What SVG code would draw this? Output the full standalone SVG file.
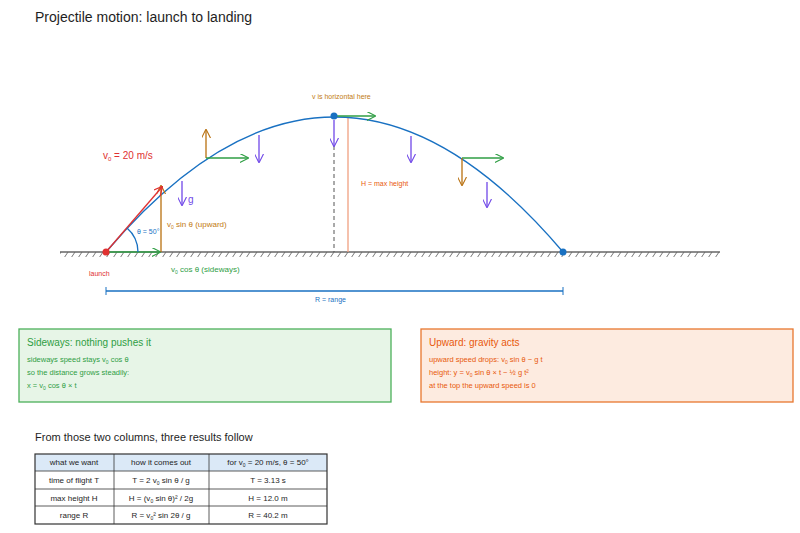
<svg xmlns="http://www.w3.org/2000/svg" width="800" height="533" viewBox="0 0 800 533">
<style>
text{font-family:"Liberation Sans",Arial,sans-serif;font-size:8px}
.t{font-size:14px;fill:#1e1e1e}
.g{fill:#2f9e44}.o{fill:#c27a12}.r{fill:#e03131}.b{fill:#1971c2}.oo{fill:#e8590c}
.ln{fill:none;stroke-width:1.3}
.tb{font-size:8px;fill:#1e1e1e;text-anchor:middle}
</style>
<defs>
<marker id="ag" viewBox="0 0 10 10" refX="9" refY="5" markerWidth="9" markerHeight="9" orient="auto" markerUnits="userSpaceOnUse"><path d="M0,0L10,5L0,10" fill="none" stroke="#2f9e44" stroke-width="1.2"/></marker>
<marker id="ao" viewBox="0 0 10 10" refX="9" refY="5" markerWidth="9" markerHeight="9" orient="auto" markerUnits="userSpaceOnUse"><path d="M0,0L10,5L0,10" fill="none" stroke="#b8700f" stroke-width="1.2"/></marker>
<marker id="ap" viewBox="0 0 10 10" refX="9" refY="5" markerWidth="9" markerHeight="9" orient="auto" markerUnits="userSpaceOnUse"><path d="M0,0L10,5L0,10" fill="none" stroke="#7048e8" stroke-width="1.2"/></marker>
<marker id="ar" viewBox="0 0 10 10" refX="9" refY="5" markerWidth="9" markerHeight="9" orient="auto" markerUnits="userSpaceOnUse"><path d="M0,0L10,5L0,10" fill="none" stroke="#e03131" stroke-width="1.4"/></marker>
<pattern id="hatch" width="7" height="6" patternUnits="userSpaceOnUse"><path d="M5,0L1,6" stroke="#555" stroke-width="0.8"/></pattern>
</defs>
<text x="35" y="22" class="t">Projectile motion: launch to landing</text>
<g id="ground">
<rect x="60" y="252" width="660" height="5" fill="url(#hatch)"/>
<line x1="60" y1="252" x2="720" y2="252" stroke="#666" stroke-width="1.3"/>
</g>
<g id="connectors">
<line x1="334" y1="146" x2="334" y2="252" stroke="#555" stroke-dasharray="4 3" stroke-width="1"/>
<line x1="348" y1="117" x2="348" y2="252" stroke="#f0a080" stroke-width="1.3"/>
<path d="M106,252 Q334.5,-18 563,252" class="ln" stroke="#1971c2" stroke-width="2.2"/>
<line x1="106" y1="252" x2="160" y2="252" class="ln" stroke="#2f9e44" marker-end="url(#ag)"/>
<line x1="161" y1="252" x2="161" y2="186" class="ln" stroke="#b8700f" marker-end="url(#ao)"/>
<line x1="106" y1="252" x2="162" y2="187" class="ln" stroke="#e03131" stroke-width="1.8" marker-end="url(#ar)"/>
<path d="M138,252 A32,32 0 0 0 127,228" class="ln" stroke="#1971c2" stroke-width="1"/>
<line x1="182" y1="181" x2="182" y2="205" class="ln" stroke="#7048e8" marker-end="url(#ap)"/>
<line x1="206" y1="158" x2="206" y2="130" class="ln" stroke="#b8700f" marker-end="url(#ao)"/>
<line x1="206" y1="158" x2="248" y2="158" class="ln" stroke="#2f9e44" marker-end="url(#ag)"/>
<line x1="259" y1="135" x2="259" y2="162" class="ln" stroke="#7048e8" marker-end="url(#ap)"/>
<line x1="334" y1="120" x2="334" y2="146" class="ln" stroke="#7048e8" marker-end="url(#ap)"/>
<line x1="334" y1="116" x2="375" y2="116" class="ln" stroke="#2f9e44" marker-end="url(#ag)"/>
<line x1="411" y1="136" x2="411" y2="162" class="ln" stroke="#7048e8" marker-end="url(#ap)"/>
<line x1="462" y1="158" x2="503" y2="158" class="ln" stroke="#2f9e44" marker-end="url(#ag)"/>
<line x1="462" y1="158" x2="462" y2="185" class="ln" stroke="#b8700f" marker-end="url(#ao)"/>
<line x1="487" y1="182" x2="487" y2="207" class="ln" stroke="#7048e8" marker-end="url(#ap)"/>
<line x1="106" y1="291" x2="563" y2="291" class="ln" stroke="#1971c2" stroke-width="1"/>
<line x1="106" y1="287" x2="106" y2="295" stroke="#1971c2"/>
<line x1="563" y1="287" x2="563" y2="295" stroke="#1971c2"/>
</g>
<g id="points">
<circle cx="106" cy="252" r="3.5" fill="#e03131"/>
<circle cx="334" cy="116" r="3.5" fill="#1971c2"/>
<circle cx="563" cy="252" r="3.5" fill="#1971c2"/>
</g>
<g id="labels">
<text x="103" y="159" class="r" style="font-size:10px">v<tspan font-size="6" dy="2">0</tspan><tspan dy="-2"> = 20 m/s</tspan></text>
<text x="137" y="234" class="b" style="font-size:7px">θ = 50°</text>
<text x="188" y="203" style="font-size:10px;fill:#7048e8">g</text>
<text x="167" y="227" class="o">v<tspan font-size="5" dy="2">0</tspan><tspan dy="-2"> sin θ  (upward)</tspan></text>
<text x="89" y="276" class="r" style="font-size:7px">launch</text>
<text x="171" y="272" class="g">v<tspan font-size="5" dy="2">0</tspan><tspan dy="-2"> cos θ  (sideways)</tspan></text>
<text x="312" y="99" class="o" style="font-size:7px">v is horizontal here</text>
<text x="361" y="186" class="oo" style="font-size:7px">H = max height</text>
<text x="315" y="302" class="b" style="font-size:7px">R = range</text>
</g>
<g id="sideways">
<rect x="19" y="329" width="372" height="73" fill="#e7f5e7" stroke="#4cb05a" stroke-width="1.3"/>
<text x="27" y="346" class="g" style="font-size:10px">Sideways: nothing pushes it</text>
<text x="27" y="362" class="g" style="font-size:7.5px">sideways speed stays  v<tspan font-size="5" dy="2">0</tspan><tspan dy="-2"> cos θ</tspan></text>
<text x="27" y="375" class="g" style="font-size:7.5px">so the distance grows steadily:</text>
<text x="27" y="388" class="g" style="font-size:7.5px">x = v<tspan font-size="5" dy="2">0</tspan><tspan dy="-2"> cos θ × t</tspan></text>
</g>
<g id="upward">
<rect x="421" y="329" width="372" height="73" fill="#fdebe0" stroke="#e8772e" stroke-width="1.3"/>
<text x="429" y="346" class="oo" style="font-size:10px">Upward: gravity acts</text>
<text x="429" y="362" class="oo" style="font-size:7.5px">upward speed drops:  v<tspan font-size="5" dy="2">0</tspan><tspan dy="-2"> sin θ − g t</tspan></text>
<text x="429" y="375" class="oo" style="font-size:7.5px">height:  y = v<tspan font-size="5" dy="2">0</tspan><tspan dy="-2"> sin θ × t − ½ g t²</tspan></text>
<text x="429" y="388" class="oo" style="font-size:7.5px">at the top the upward speed is 0</text>
</g>
<text x="35" y="441" style="font-size:11px;fill:#1e1e1e">From those two columns, three results follow</text>
<g id="table">
<rect x="35" y="454" width="292" height="17" fill="#dbe9f7"/>
<rect x="35" y="454" width="292" height="70" fill="none" stroke="#333" stroke-width="1.2"/>
<g stroke="#333" stroke-width="0.8">
<line x1="35" y1="471" x2="327" y2="471"/><line x1="35" y1="489" x2="327" y2="489"/><line x1="35" y1="506" x2="327" y2="506"/>
<line x1="114" y1="454" x2="114" y2="524"/><line x1="209" y1="454" x2="209" y2="524"/>
</g>
<text x="74" y="465" class="tb">what we want</text>
<text x="161" y="465" class="tb">how it comes out</text>
<text x="268" y="465" class="tb">for v<tspan font-size="5" dy="2">0</tspan><tspan dy="-2"> = 20 m/s, θ = 50°</tspan></text>
<text x="74" y="483" class="tb">time of flight  T</text>
<text x="161" y="483" class="tb">T = 2 v<tspan font-size="5" dy="2">0</tspan><tspan dy="-2"> sin θ / g</tspan></text>
<text x="268" y="483" class="tb">T = 3.13 s</text>
<text x="74" y="501" class="tb">max height  H</text>
<text x="161" y="501" class="tb">H = (v<tspan font-size="5" dy="2">0</tspan><tspan dy="-2"> sin θ)² / 2g</tspan></text>
<text x="268" y="501" class="tb">H = 12.0 m</text>
<text x="74" y="518" class="tb">range  R</text>
<text x="161" y="518" class="tb">R = v<tspan font-size="5" dy="2">0</tspan><tspan dy="-2">² sin 2θ / g</tspan></text>
<text x="268" y="518" class="tb">R = 40.2 m</text>
</g>
</svg>
